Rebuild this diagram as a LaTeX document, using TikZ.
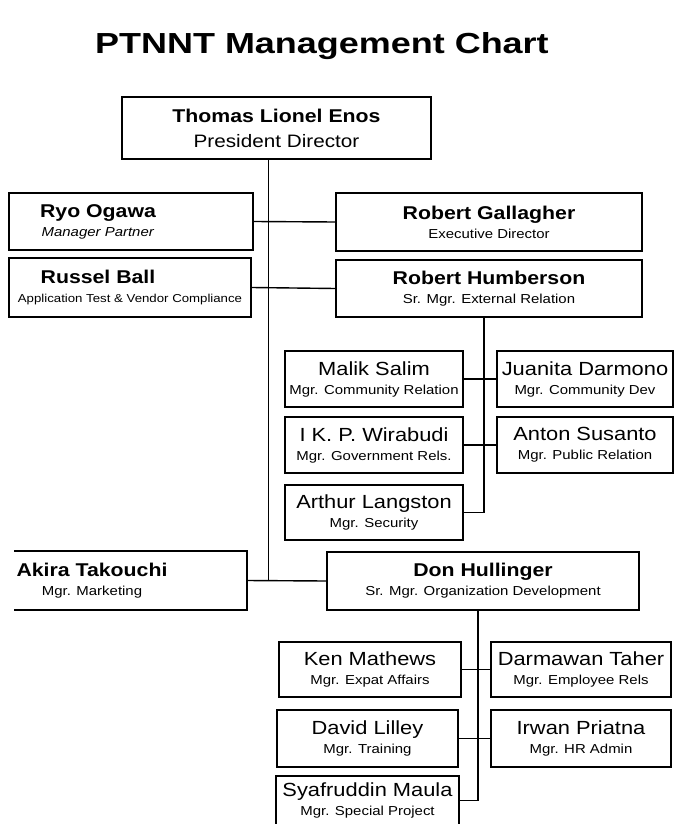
\documentclass[tikz,border=0pt]{standalone}
\usepackage{fontspec}
\setmainfont{Liberation Sans}[FakeStretch=1.15]
\newfontfamily\titlefont{Liberation Sans}[FakeStretch=1.24]
\newcommand\nmb[1]{{\bfseries\fontsize{18.5}{19}\selectfont #1}}
\newcommand\nmr[1]{{\fontsize{19}{19}\selectfont #1}}
\begin{document}
\begin{tikzpicture}[x=1pt,y=-1pt,
  orgbox/.style={draw, line width=1.6pt, inner sep=0pt, align=center, font=\fontsize{13}{19}\selectfont},
  openbox/.style={orgbox, draw=none},
  boxline/.style={line width=1.6pt},
  conn/.style={line width=1.4pt}]
\fill[white] (0,0) rectangle (675,824);
\useasboundingbox (0,0) rectangle (675,824);
\node[anchor=base west, inner sep=0pt, font=\titlefont\bfseries\fontsize{29}{30}\selectfont] (title) at (95,54) {PTNNT Management Chart};

\node[orgbox, minimum width=309pt, minimum height=62pt, font=\fontsize{18}{25}\selectfont] (thomas) at (276.5,128) {\nmb{Thomas Lionel Enos}\\President Director};

\node[orgbox, minimum width=244pt, minimum height=57pt] (ryo) at (131,221.5) {\nmb{Ryo Ogawa}\hspace*{66pt}\\\textit{Manager Partner}\hspace*{66pt}};
\node[orgbox, minimum width=306pt, minimum height=58pt] (gall) at (489,222) {\nmb{Robert Gallagher}\\Executive Director};
\node[orgbox, minimum width=242pt, minimum height=59pt] (russel) at (130,287.5) {\nmb{Russel Ball}\hspace*{64pt}\\{\fontsize{11.5}{19}\selectfont Application Test \& Vendor Compliance}};
\node[orgbox, minimum width=306pt, minimum height=57pt] (humb) at (489,288.5) {\nmb{Robert Humberson}\\Sr. Mgr. External Relation};

\node[orgbox, minimum width=178pt, minimum height=56pt] (malik) at (374,379) {\nmr{Malik Salim}\\Mgr. Community Relation};
\node[orgbox, minimum width=176pt, minimum height=56pt] (juan) at (585,379) {\nmr{Juanita Darmono}\\Mgr. Community Dev};
\node[orgbox, minimum width=178pt, minimum height=56pt] (wira) at (374,445) {\nmr{I K. P. Wirabudi}\\Mgr. Government Rels.};
\node[orgbox, minimum width=176pt, minimum height=56pt] (anton) at (585,445) {\nmr{Anton Susanto}\\Mgr. Public Relation};
\node[orgbox, minimum width=178pt, minimum height=55pt] (arthur) at (374,512.5) {\nmr{Arthur Langston}\\Mgr. Security};

\node[openbox, minimum width=231pt, minimum height=57pt] (akira) at (130.5,580.5) {\nmb{Akira Takouchi}\hspace*{77pt}\\Mgr. Marketing\hspace*{77pt}};
\draw[boxline] (akira.north west) -- (akira.north east) -- (akira.south east) -- (akira.south west);
\node[orgbox, minimum width=312pt, minimum height=58pt] (don) at (483,581) {\nmb{Don Hullinger}\\Sr. Mgr. Organization Development};

\node[orgbox, minimum width=182pt, minimum height=55pt] (ken) at (370,669.5) {\nmr{Ken Mathews}\\Mgr. Expat Affairs};
\node[orgbox, minimum width=180pt, minimum height=55pt] (darm) at (581,669.5) {\nmr{Darmawan Taher}\\Mgr. Employee Rels};
\node[orgbox, minimum width=181pt, minimum height=57pt] (david) at (367.5,738.5) {\nmr{David Lilley}\\Mgr. Training};
\node[orgbox, minimum width=180pt, minimum height=57pt] (irwan) at (581,738.5) {\nmr{Irwan Priatna}\\Mgr. HR Admin};
\node[openbox, minimum width=181pt, minimum height=47pt] (syaf) at (367.5,800.5) {\nmr{Syafruddin Maula}\\Mgr. Special Project};
\draw[boxline] (syaf.south west) -- (syaf.north west) -- (syaf.north east) -- (syaf.south east);

\coordinate (tk) at ([xshift=-8pt]thomas.south);
\draw[conn] (tk) -- (tk |- akira.east);
\draw[conn] (ryo.east) -- (gall.west);
\draw[conn] (russel.east) -- (humb.west);
\draw[conn] (akira.east) -- (don.west);
\coordinate (hk) at ([xshift=-5pt]humb.south);
\draw[conn] (hk) -- (hk |- arthur.east) -- (arthur.east);
\draw[conn] (malik.east) -- (juan.west);
\draw[conn] (wira.east) -- (anton.west);
\coordinate (dk) at ([xshift=-5pt]don.south);
\draw[conn] (dk) -- (dk |- syaf.east) -- (syaf.east);
\draw[conn] (ken.east) -- (darm.west);
\draw[conn] (david.east) -- (irwan.west);
\end{tikzpicture}
\end{document}
